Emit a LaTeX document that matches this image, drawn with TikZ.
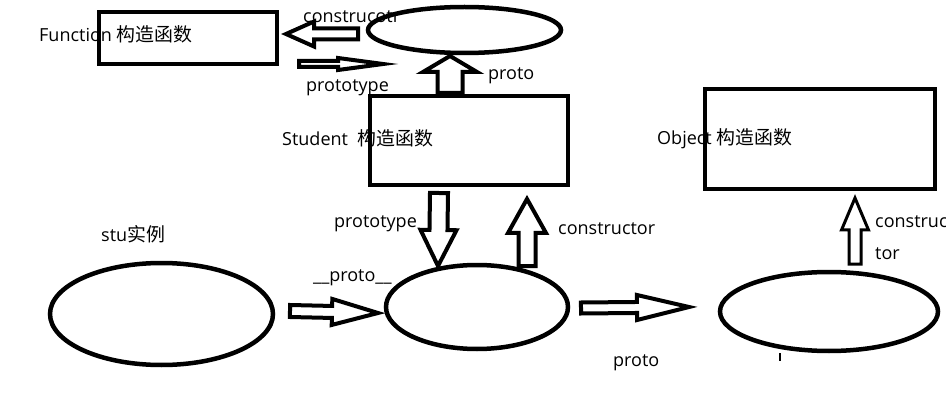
\documentclass[tikz,border=0pt]{standalone}
\usepackage{fontspec}
\setmainfont{Open Sans}
\newfontfamily\cjk[Scale=1.05]{Noto Sans CJK SC}
\usetikzlibrary{calc,shapes.geometric}

\tikzset{
  box/.style={draw, line width=4pt, inner sep=0pt},
  oval/.style={draw, ellipse, line width=4.5pt, inner sep=0pt},
  txt/.style={font=\fontsize{18}{20}\selectfont, inner sep=0pt, anchor=base west},
  hollow/.style={draw, line width=4pt, line join=miter},
}

\newcommand{\blockarrow}[6][]{%
  \coordinate (hb) at ($(#3)!#6!(#2)$);
  \draw[hollow,#1] ($(#2)!#4!90:(#3)$) -- ($(hb)!#4!90:(#3)$) -- ($(hb)!#5!90:(#3)$) -- (#3)
    -- ($(hb)!#5!-90:(#3)$) -- ($(hb)!#4!-90:(#3)$) -- ($(#2)!#4!-90:(#3)$) -- cycle;
}

\begin{document}
\begin{tikzpicture}[x=1pt, y=-1pt]
        \useasboundingbox (0,0) rectangle (946,409);

        \node[box, minimum width=178pt, minimum height=52pt] (fbox) at (188,38) {};
        \node[box, minimum width=198pt, minimum height=89pt] (sbox) at (469,140.5) {};
        \node[box, minimum width=230pt, minimum height=100pt] (obox) at (820,139) {};

        \node[oval, minimum width=193pt, minimum height=46pt] (proto) at (464.5,30) {};
        \node[oval, minimum width=223pt, minimum height=102pt] (stu) at (161.5,314) {};
        \node[oval, minimum width=182pt, minimum height=84pt] (sproto) at (477,307) {};
        \node[oval, minimum width=218pt, minimum height=79pt] (oproto) at (829,311.5) {};
        \draw[line width=2pt] (780,353) -- (780,361);

        \coordinate (c1s) at (358,34);  \coordinate (c1t) at (286,34);
        \coordinate (p1s) at (299,64);  \coordinate (p1t) at (383,64);
        \coordinate (u1s) at (450,93);  \coordinate (u1t) at (450,56);
        \coordinate (p2s) at (439,193); \coordinate (p2t) at (438,266);
        \coordinate (c2s) at (527,266); \coordinate (c2t) at (527,199);
        \coordinate (s1s) at (290,311); \coordinate (s1t) at (378,313);
        \coordinate (s2s) at (581,308); \coordinate (s2t) at (689,307);
        \coordinate (c3s) at (855,264); \coordinate (c3t) at (855,198);

        \foreach \a/\w/\h/\l in {c1/5.5/12.5/28, p1/3/6/45, u1/12.5/27/16, p2/9/18/36, c2/8.5/19/34, s1/6/13/46, s2/5.5/12.5/52}{
            \blockarrow{\a s}{\a t}{\w pt}{\h pt}{\l pt}
        }
        \blockarrow[line width=3pt]{c3s}{c3t}{6pt}{13.5pt}{32pt}

        \node[txt] (ftxt) at (39,42) {Function {\cjk 构造函数}};
        \node[txt] (cotr) at (303,23) {construcotr};
        \node[txt] (pt1) at (306,92) {prototype};
        \node[txt] (pr1) at (488,80) {proto};
        \node[txt] (stxt) at (282,146) {Student\ \ {\cjk 构造函数}};
        \node[txt] (otxt) at (657,145) {Object {\cjk 构造函数}};
        \node[txt] (pt2) at (334,228) {prototype};
        \node[txt] (co2) at (558,235) {constructor};
        \node[txt] (stxt2) at (101,241) {stu{\cjk 实例}};
        \node[txt] (pr2) at (313,281) {\_\_proto\_\_};
        \node[txt] (pr3) at (613,366) {proto};
        \node[txt] (co3) at (875,228) {construc};
        \node[txt] (tor) at (875,259) {tor};
    \end{tikzpicture}
\end{document}
